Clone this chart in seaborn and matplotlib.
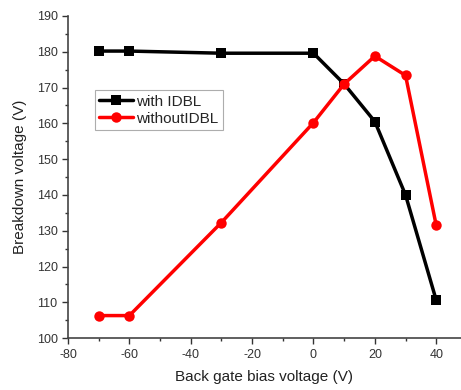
import matplotlib
matplotlib.use('Agg')
import matplotlib.pyplot as plt
from matplotlib.ticker import MultipleLocator
import pandas as pd
import seaborn as sns

bias = [-70, -60, -30, 0, 10, 20, 30, 40]
with_idbl = [180.2, 180.2, 179.6, 179.6, 171.0, 160.5, 140.0, 110.6]
without_idbl = [106.3, 106.3, 132.3, 160.2, 171.0, 178.8, 173.4, 131.5]
labels = ['with IDBL', 'withoutIDBL']

df = pd.DataFrame({
    'bias': bias * 2,
    'vbd': with_idbl + without_idbl,
    'series': [labels[0]] * len(bias) + [labels[1]] * len(bias),
})

sns.set_style('ticks')
plt.rcParams['font.family'] = ['Liberation Sans', 'DejaVu Sans']
plt.rcParams['axes.unicode_minus'] = False

fig = plt.figure(figsize=(4.61, 3.9), dpi=100)
ax = fig.add_axes([0.1475, 0.133, 0.852, 0.826])

sns.lineplot(data=df, x='bias', y='vbd', hue='series', style='series',
             palette={labels[0]: 'black', labels[1]: '#ff0000'},
             markers={labels[0]: 's', labels[1]: 'o'},
             dashes=False, linewidth=2.5, markersize=7.5, markeredgewidth=0,
             ax=ax)

ax.set_xlim(-80, 48)
ax.set_ylim(100, 190)
ax.xaxis.set_major_locator(MultipleLocator(20))
ax.xaxis.set_minor_locator(MultipleLocator(10))
ax.yaxis.set_major_locator(MultipleLocator(10))
ax.yaxis.set_minor_locator(MultipleLocator(5))
ax.tick_params(which='major', length=4, width=1, labelsize=9, colors='#333333')
ax.tick_params(which='minor', length=2.5, width=1, colors='#333333')
for s in ['top', 'right']:
    ax.spines[s].set_visible(False)
for s in ['left', 'bottom']:
    ax.spines[s].set_color('#444444')
    ax.spines[s].set_linewidth(1.2)

ax.set_xlabel('Back gate bias voltage (V)', fontsize=11, color='#222222', labelpad=7)
ax.set_ylabel('Breakdown voltage (V)', fontsize=11, color='#222222', labelpad=7)

leg = ax.legend(loc='upper left', bbox_to_anchor=(0.068, 0.77), fontsize=11,
                frameon=True, fancybox=False, edgecolor='#999999',
                handlelength=2.2, handletextpad=0.2, borderpad=0.3,
                labelspacing=0.2, borderaxespad=0)
leg.get_frame().set_linewidth(0.8)

fig.savefig('out.png', dpi=100)
